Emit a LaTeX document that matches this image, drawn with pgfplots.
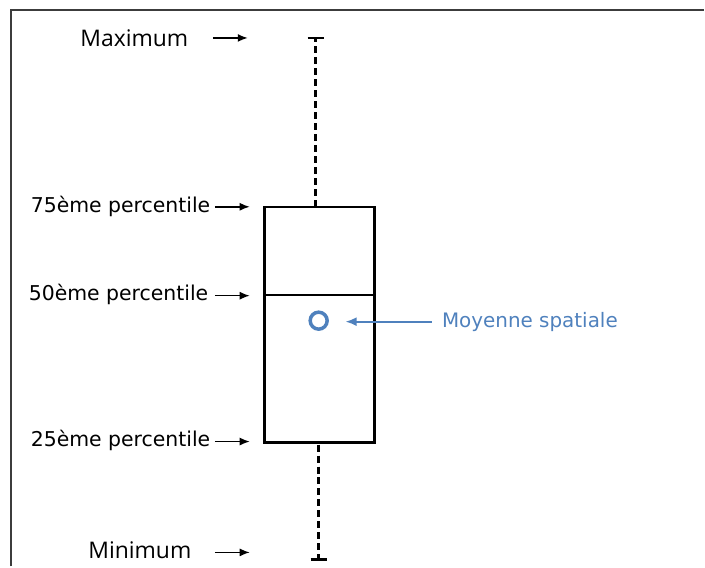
\documentclass[border=0pt]{standalone}
\usepackage{fontspec}
\setmainfont{DejaVu Sans}
\newfontfamily\lab{Open Sans}
\usepackage{pgfplots}
\pgfplotsset{compat=1.18}
\usetikzlibrary{arrows.meta}
\definecolor{meanblue}{RGB}{79,129,189}
\definecolor{framegray}{RGB}{60,60,60}

\begin{document}
\begin{tikzpicture}
  \begin{axis}[
      width=705bp, height=567bp, scale only axis,
      xmin=0, xmax=705, ymin=0, ymax=567,
      y dir=reverse,
      axis lines=none,
      clip=false,
    ]
    \path (rel axis cs:0,0) (rel axis cs:1,1);

    % frame (left and top edges only)
    \addplot[framegray, line width=1.5bp] coordinates {(11,567) (11,10) (705,10)};

    % box and median
    \addplot[black, line width=2.5bp] coordinates {(265,207) (375,207) (375,443) (265,443)} -- cycle;
    \addplot[black, line width=2bp] coordinates {(265,295) (375,295)};

    % whiskers
    \addplot[black, line width=2.5bp, dash pattern=on 7bp off 4bp] coordinates {(316,207) (316,38)};
    \addplot[black, line width=2.5bp] coordinates {(308,38) (324,38)};
    \addplot[black, line width=2.5bp, dash pattern=on 7bp off 4bp] coordinates {(319,445) (319,560)};
    \addplot[black, line width=2.5bp] coordinates {(311,560) (327,560)};

    % mean
    \addplot[meanblue, only marks, mark=o, mark size=8.5bp, line width=3.5bp] coordinates {(319,321)};
    \addplot[meanblue, line width=1.8bp, -{Latex[length=11bp,width=9bp]}] coordinates {(432,322) (346,322)};
    \node[anchor=west, text=meanblue, font=\fontsize{20}{23}\selectfont] at (axis cs:439,322) {Moyenne spatiale};

    % left annotations
    \addplot[black, line width=1.5bp, -{Latex[length=10bp,width=8bp]}] coordinates {(213,38) (248,38)};
    \addplot[black, line width=1.5bp, -{Latex[length=10bp,width=8bp]}] coordinates {(215,207) (250,207)};
    \addplot[black, line width=1.5bp, -{Latex[length=10bp,width=8bp]}] coordinates {(215,296) (250,296)};
    \addplot[black, line width=1.5bp, -{Latex[length=10bp,width=8bp]}] coordinates {(215,442) (250,442)};
    \addplot[black, line width=1.5bp, -{Latex[length=10bp,width=8bp]}] coordinates {(215,553) (250,553)};

    \node[anchor=east, font=\lab\fontsize{23}{26}\selectfont] at (axis cs:192,38) {Maximum};
    \node[anchor=east, font=\fontsize{20.5}{23}\selectfont] at (axis cs:214,207) {75ème percentile};
    \node[anchor=east, font=\fontsize{20.5}{23}\selectfont] at (axis cs:212,295) {50ème percentile};
    \node[anchor=east, font=\fontsize{20.5}{23}\selectfont] at (axis cs:214,441) {25ème percentile};
    \node[anchor=east, font=\lab\fontsize{23}{26}\selectfont] at (axis cs:195,551) {Minimum};
  \end{axis}
\end{tikzpicture}
\end{document}
